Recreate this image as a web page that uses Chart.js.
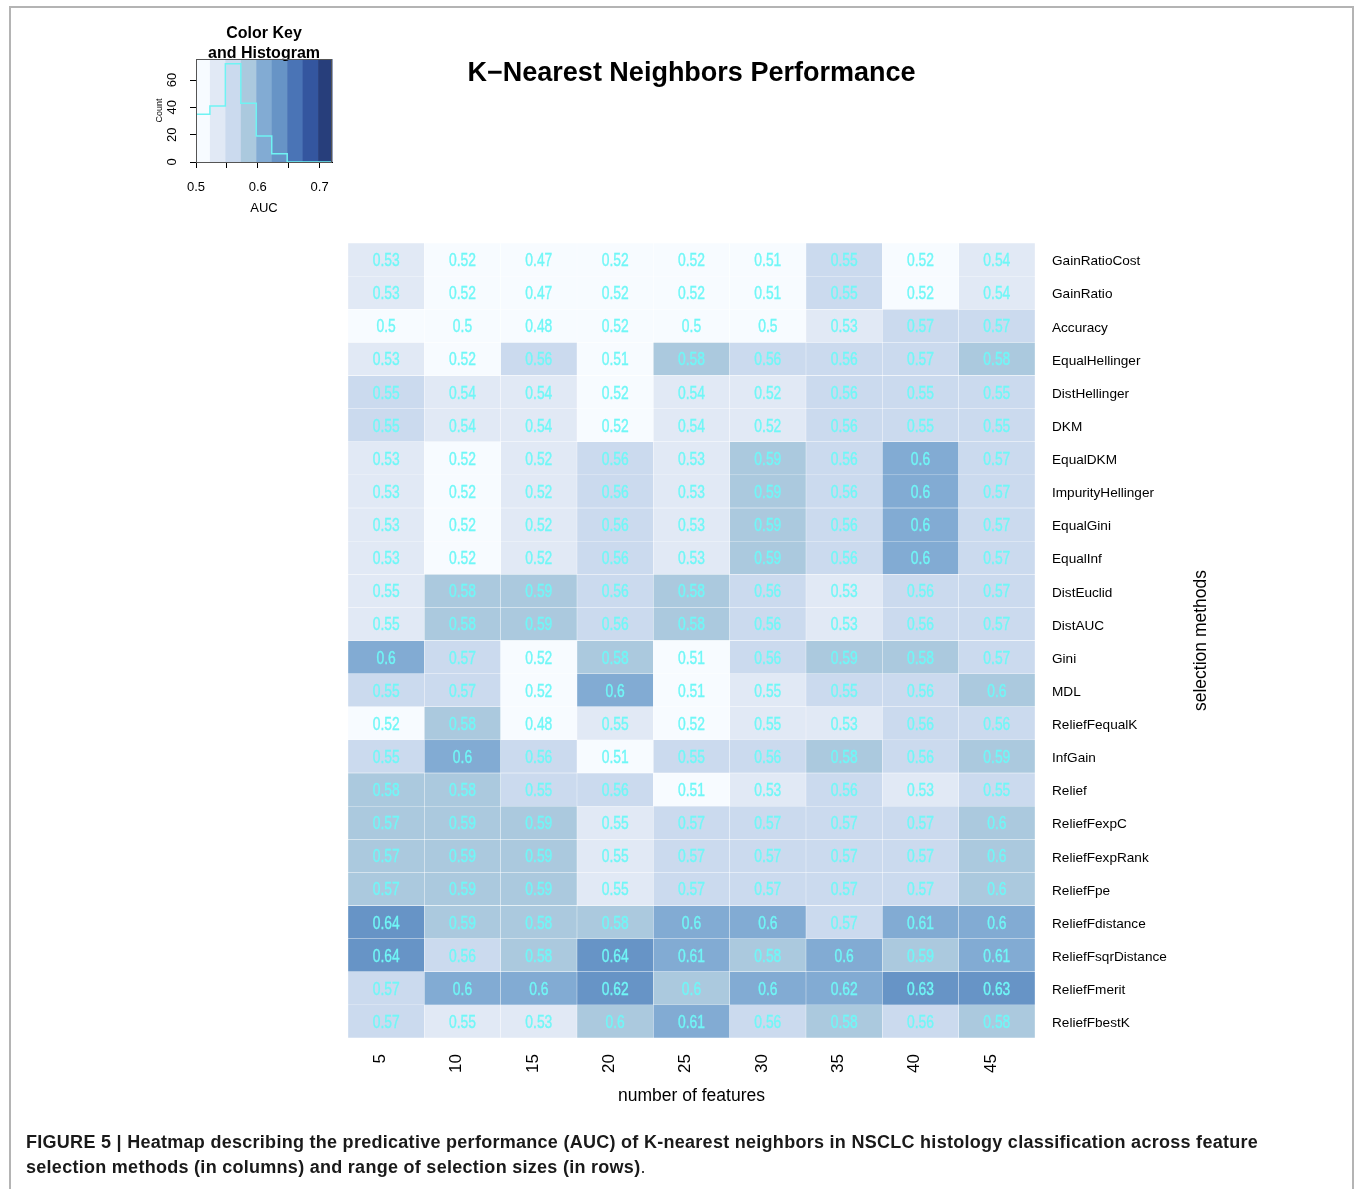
<!DOCTYPE html>
<html>
<head>
<meta charset="utf-8">
<title>K-Nearest Neighbors Performance</title>
<script src="https://cdn.jsdelivr.net/npm/chart.js@4.4.1/dist/chart.umd.min.js"></script>
<style>
  html, body { margin: 0; padding: 0; background: #fff; }
  body { width: 1357px; height: 1189px; position: relative; overflow: hidden;
         font-family: "Liberation Sans", Arial, Helvetica, sans-serif; }
  #frame { position: absolute; left: 9px; top: 6px; width: 1341px; height: 1260px;
           border: 2px solid #b4b4b4; }
  #main { position: absolute; left: 0; top: 0; }
  #key { position: absolute; left: 140px; top: 15px; }
  #caption { position: absolute; left: 26px; top: 1130px; font-size: 18px; line-height: 25px;
             letter-spacing: 0.28px; color: #1a1a1a; white-space: nowrap; }
  #caption b { font-weight: bold; }
</style>
</head>
<body>
<div id="frame"></div>
<canvas id="main" width="1357" height="1189"></canvas>
<canvas id="key" width="215" height="210"></canvas>
<div id="caption"><b>FIGURE 5 | Heatmap describing the predicative performance (AUC) of K-nearest neighbors in NSCLC histology classification across feature<br>selection methods (in columns) and range of selection sizes (in rows)</b>.</div>

<script>
// Number of selected features (columns)
const FEATURES = ['5', '10', '15', '20', '25', '30', '35', '40', '45'];

// Feature selection methods (rows, top to bottom)
const METHODS = [
  'GainRatioCost', 'GainRatio', 'Accuracy', 'EqualHellinger', 'DistHellinger', 'DKM',
  'EqualDKM', 'ImpurityHellinger', 'EqualGini', 'EqualInf', 'DistEuclid', 'DistAUC',
  'Gini', 'MDL', 'ReliefFequalK', 'InfGain', 'Relief', 'ReliefFexpC',
  'ReliefFexpRank', 'ReliefFpe', 'ReliefFdistance', 'ReliefFsqrDistance', 'ReliefFmerit', 'ReliefFbestK'
];

// AUC per method, one array per feature count
const AUC_5  = [0.53, 0.53, 0.5,  0.53, 0.55, 0.55, 0.53, 0.53, 0.53, 0.53, 0.547, 0.547, 0.6,  0.55,  0.52,  0.55, 0.58, 0.574, 0.574, 0.574, 0.64, 0.64, 0.57,  0.57];
const AUC_10 = [0.52, 0.52, 0.5,  0.52, 0.54, 0.54, 0.52, 0.52, 0.52, 0.52, 0.58,  0.58,  0.57, 0.57,  0.58,  0.6,  0.58, 0.59,  0.59,  0.59,  0.59, 0.56, 0.6,   0.547];
const AUC_15 = [0.47, 0.47, 0.48, 0.56, 0.54, 0.54, 0.524, 0.524, 0.524, 0.524, 0.59, 0.59, 0.52, 0.52, 0.48, 0.56, 0.55, 0.59, 0.59, 0.59, 0.58, 0.58, 0.6, 0.53];
const AUC_20 = [0.52, 0.52, 0.52, 0.51, 0.52, 0.52, 0.56, 0.56, 0.56, 0.56, 0.56,  0.56,  0.58, 0.6,   0.547, 0.51, 0.56, 0.547, 0.547, 0.547, 0.58, 0.64, 0.624, 0.596];
const AUC_25 = [0.52, 0.52, 0.5,  0.58, 0.54, 0.54, 0.53, 0.53, 0.53, 0.53, 0.58,  0.58,  0.51, 0.51,  0.52,  0.55, 0.51, 0.57,  0.57,  0.57,  0.6,  0.61, 0.596, 0.61];
const AUC_30 = [0.51, 0.51, 0.5,  0.56, 0.524, 0.524, 0.59, 0.59, 0.59, 0.59, 0.56, 0.56, 0.56, 0.547, 0.547, 0.56, 0.53, 0.57, 0.57, 0.57, 0.6, 0.58, 0.6, 0.56];
const AUC_35 = [0.55, 0.55, 0.53, 0.56, 0.56, 0.56, 0.56, 0.56, 0.56, 0.56, 0.53,  0.53,  0.59, 0.55,  0.53,  0.58, 0.56, 0.57,  0.57,  0.57,  0.57, 0.6,  0.62,  0.58];
const AUC_40 = [0.52, 0.52, 0.57, 0.57, 0.55, 0.55, 0.6,  0.6,  0.6,  0.6,  0.56,  0.56,  0.58, 0.56,  0.56,  0.56, 0.53, 0.57,  0.57,  0.57,  0.61, 0.59, 0.63,  0.56];
const AUC_45 = [0.54, 0.54, 0.57, 0.58, 0.55, 0.55, 0.57, 0.57, 0.57, 0.57, 0.57,  0.57,  0.57, 0.596, 0.56,  0.59, 0.55, 0.596, 0.596, 0.596, 0.6,  0.61, 0.63,  0.58];

const COLUMNS = [AUC_5, AUC_10, AUC_15, AUC_20, AUC_25, AUC_30, AUC_35, AUC_40, AUC_45];

// Colour breaks of the key and the colour of each interval
const BREAKS = [0.4975, 0.5225, 0.5475, 0.5725, 0.5975, 0.6225, 0.6475, 0.6725, 0.6975, 0.7225];
const BIN_COLORS = ['#f7fbff', '#e1e9f5', '#cbdaee', '#abc9de', '#82abd3', '#6794c6', '#4a74b6', '#34569f', '#273e7b'];

// Colour key axis ranges and ticks
const KEY_MIN = 0.5, KEY_MAX = 0.72, COUNT_MAX = 75.4;
const KEY_TICKS = [0.5, 0.55, 0.6, 0.65, 0.7];
const COUNT_TICKS = [0, 20, 40, 60];

const FONT = '"Liberation Sans", Arial, Helvetica, sans-serif';
const NOTE_COLOR = '#70f7f7';
Chart.defaults.font.family = FONT;
Chart.defaults.color = '#000';

function binOf(v) {
  let i = 0;
  while (i < BIN_COLORS.length - 1 && v >= BREAKS[i + 1]) i++;
  return i;
}
const colourOf = v => BIN_COLORS[binOf(v)];
const fmt = v => String(parseFloat(v.toFixed(2)));

// ---- Heatmap: one stacked bar series per method, one unit cell per feature count ----
const datasets = METHODS.map((name, r) => ({
  label: name,
  data: FEATURES.map(() => 1),
  auc: COLUMNS.map(col => col[r]),
  backgroundColor: COLUMNS.map(col => colourOf(col[r])),
  borderColor: 'rgba(255,255,255,0.35)',
  borderWidth: 0.5,
  borderSkipped: false,
  barPercentage: 1,
  categoryPercentage: 1
}));

// Writes the AUC value in the middle of every cell
const cellNotes = {
  id: 'cellNotes',
  afterDatasetsDraw(chart) {
    const ctx = chart.ctx;
    ctx.save();
    ctx.font = '18px ' + FONT;
    ctx.fillStyle = NOTE_COLOR;
    ctx.strokeStyle = NOTE_COLOR;
    ctx.lineWidth = 0.35;
    ctx.textAlign = 'center';
    ctx.textBaseline = 'middle';
    chart.data.datasets.forEach((ds, di) => {
      chart.getDatasetMeta(di).data.forEach((bar, i) => {
        const p = bar.getProps(['x', 'y', 'base'], true);
        const s = fmt(ds.auc[i]);
        ctx.save();
        ctx.translate(p.x, (p.y + p.base) / 2 + 1.5);
        ctx.scale(0.77, 1);
        ctx.fillText(s, 0, 0);
        ctx.strokeText(s, 0, 0);
        ctx.restore();
      });
    });
    ctx.restore();
  }
};

// Vertical row-axis title on the far right
const sideTitle = {
  id: 'sideTitle',
  afterDraw(chart) {
    const {ctx, chartArea: a} = chart;
    ctx.save();
    ctx.font = '17.5px ' + FONT;
    ctx.fillStyle = '#000';
    ctx.textAlign = 'center';
    ctx.textBaseline = 'middle';
    ctx.translate(a.right + 166, (a.top + a.bottom) / 2);
    ctx.rotate(-Math.PI / 2);
    ctx.fillText('selection methods', 0, 0);
    ctx.restore();
  }
};

new Chart(document.getElementById('main'), {
  type: 'bar',
  data: { labels: FEATURES, datasets },
  plugins: [cellNotes, sideTitle],
  options: {
    responsive: false,
    animation: false,
    devicePixelRatio: 1,
    layout: { padding: { left: 348, right: 172, top: 0, bottom: 71 } },
    plugins: {
      legend: { display: false },
      tooltip: { enabled: false },
      title: {
        display: true,
        text: 'K\u2212Nearest Neighbors Performance',
        fullSize: false,
        color: '#000',
        font: { size: 27, weight: 'bold' },
        padding: { top: 57, bottom: 153.6 }
      }
    },
    scales: {
      x: {
        stacked: true,
        grid: { display: false, drawTicks: false },
        border: { display: false },
        ticks: { font: { size: 17 }, color: '#000', minRotation: 90, maxRotation: 90,
                 autoSkip: false, padding: 16, labelOffset: -6 },
        title: { display: true, text: 'number of features', color: '#000',
                 font: { size: 17.5 }, padding: { top: 0, bottom: 11 } },
        afterFit(s) { s.height = 80; }
      },
      y: {
        stacked: true,
        position: 'right',
        min: 0,
        max: METHODS.length,
        reverse: true,
        grid: { display: false, drawTicks: false },
        border: { display: false },
        afterBuildTicks(s) { s.ticks = METHODS.map((_, i) => ({ value: i + 0.5 })); },
        ticks: { font: { size: 13.6 }, color: '#000', padding: 17, autoSkip: false,
                 labelOffset: 2, callback: (v, i) => METHODS[i] },
        afterFit(s) { s.width = 150; }
      }
    }
  }
});

// ---- Colour key with histogram of all AUC values ----
const counts = BIN_COLORS.map(() => 0);
COLUMNS.forEach(col => col.forEach(v => { counts[binOf(v)]++; }));
const histPoints = BIN_COLORS.map((_, i) => ({ x: Math.max(BREAKS[i], KEY_MIN), y: counts[i] }));
histPoints.push({ x: KEY_MAX, y: counts[counts.length - 1] });

const keyStripes = {
  id: 'keyStripes',
  beforeDraw(chart) {
    const {ctx, chartArea: a, scales: {x}} = chart;
    ctx.save();
    BIN_COLORS.forEach((c, i) => {
      const lo = Math.max(BREAKS[i], KEY_MIN), hi = Math.min(BREAKS[i + 1], KEY_MAX);
      if (hi <= lo) return;
      const x0 = x.getPixelForValue(lo), x1 = x.getPixelForValue(hi);
      ctx.fillStyle = c;
      ctx.fillRect(x0, a.top, x1 - x0 + 0.5, a.bottom - a.top);
    });
    ctx.restore();
  },
  afterDraw(chart) {
    const {ctx, chartArea: a} = chart;
    ctx.save();
    ctx.strokeStyle = '#555';
    ctx.lineWidth = 1;
    ctx.strokeRect(a.left + 0.5, a.top + 0.5, a.right - a.left - 1, a.bottom - a.top);
    ctx.restore();
  }
};

new Chart(document.getElementById('key'), {
  type: 'line',
  data: {
    datasets: [{
      data: histPoints,
      stepped: 'before',
      borderColor: '#6ff3f3',
      borderWidth: 1.5,
      pointRadius: 0,
      fill: false
    }]
  },
  plugins: [keyStripes],
  options: {
    responsive: false,
    animation: false,
    devicePixelRatio: 1,
    layout: { padding: { left: 0, right: 23, top: 0, bottom: 8 } },
    plugins: {
      legend: { display: false },
      tooltip: { enabled: false },
      title: {
        display: true,
        text: ['Color Key', 'and Histogram'],
        fullSize: false,
        color: '#000',
        font: { size: 16, weight: 'bold' },
        padding: { top: 9.4, bottom: -3.8 }
      }
    },
    scales: {
      x: {
        type: 'linear',
        min: KEY_MIN,
        max: KEY_MAX,
        afterBuildTicks(s) { s.ticks = KEY_TICKS.map(v => ({ value: v })); },
        grid: { drawOnChartArea: false, drawTicks: true, tickLength: 6, color: '#000' },
        border: { display: true, color: '#000' },
        ticks: { font: { size: 13 }, color: '#000', padding: 12, autoSkip: false,
                 minRotation: 0, maxRotation: 0,
                 callback: v => (Math.round(v * 100) % 10 === 0 ? v.toFixed(1) : '') },
        title: { display: true, text: 'AUC', color: '#000', font: { size: 13 },
                 padding: { top: 0, bottom: 0.5 } },
        afterFit(s) { s.height = 55; }
      },
      y: {
        min: 0,
        max: COUNT_MAX,
        afterBuildTicks(s) { s.ticks = COUNT_TICKS.map(v => ({ value: v })); },
        grid: { drawOnChartArea: false, drawTicks: true, tickLength: 6, color: '#000' },
        border: { display: true, color: '#000' },
        ticks: { font: { size: 13 }, color: '#000', padding: 10, autoSkip: false,
                 minRotation: 90, maxRotation: 90, crossAlign: 'center' },
        title: { display: true, text: 'Count', color: '#000', font: { size: 9 },
                 padding: { top: 14.6, bottom: 0 } },
        afterFit(s) { s.width = 56; }
      }
    }
  }
});
</script>
</body>
</html>
